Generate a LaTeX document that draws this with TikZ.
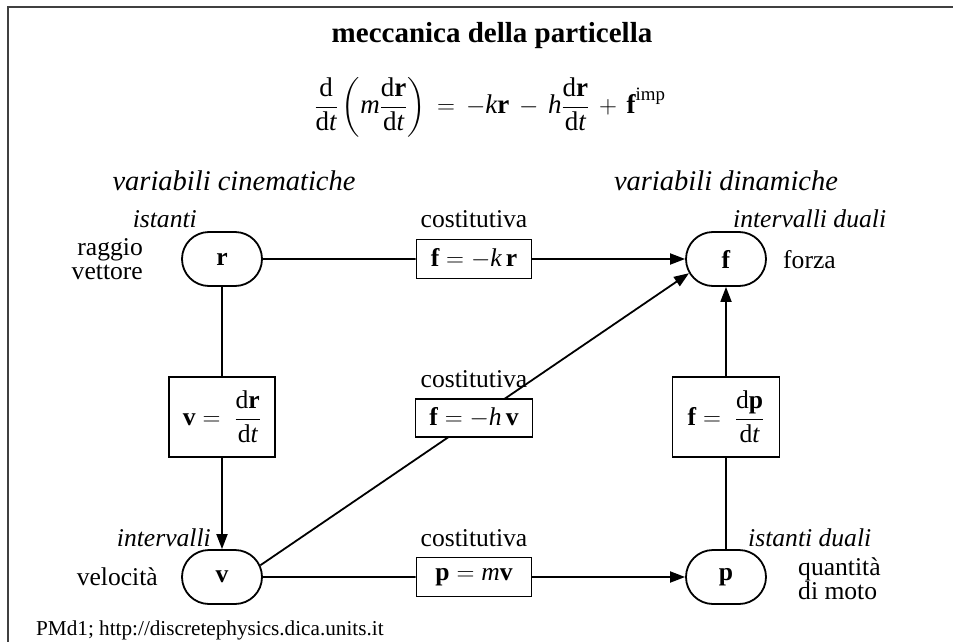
\documentclass[tikz,border=0pt]{standalone}
\usepackage{amsmath}
\usepackage{fontspec}
\setmainfont{Liberation Serif}
\usetikzlibrary{arrows.meta,shapes.misc}
\pgfdeclarelayer{bg}
\pgfsetlayers{bg,main}
\newcommand\bv[1]{\textbf{#1}}
\newcommand\iv[1]{\textit{#1}}
\newcommand\dd{\text{d}}
\begin{document}
\begin{tikzpicture}[x=1pt,y=-1pt,
  every node/.style={font=\fontsize{25.6}{24}\selectfont, inner sep=0pt},
  state/.style={draw, line width=1.8pt, rounded rectangle, minimum width=80pt, minimum height=54pt},
  eqbox/.style={draw, line width=1.8pt, fill=white, inner sep=3pt},
  conn/.style={line width=1.8pt},
  arr/.style={conn, -{Triangle[length=15pt,width=11pt]}},
  heading/.style={font=\fontsize{28.5}{30}\selectfont\itshape, anchor=base},
]
\useasboundingbox (0,0) rectangle (953,642);
\draw[line width=1.6pt, black!75] (8,642) -- (8,7) -- (953,7);

\node[font=\fontsize{29}{32}\selectfont\bfseries, anchor=base] (title) at (492,43) {meccanica della particella};
\node[font=\fontsize{27}{30}\selectfont] (eq) at (490,107) {$\displaystyle \frac{\dd}{\dd\iv{t}}\left(\iv{m}\frac{\dd\bv{r}}{\dd\iv{t}}\right) \,=\, -\iv{k}\bv{r} \,-\, \iv{h}\frac{\dd\bv{r}}{\dd\iv{t}} \,+\, \bv{f}^{\text{imp}}$};
\node[heading] (hk) at (234,190) {variabili cinematiche};
\node[heading] (hd) at (726,190) {variabili dinamiche};

\node[state] (r) at (222,259) {\bv{r}};
\node[state] (f) at (726,259) {\bv{f}};
\node[state] (v) at (222,577) {\bv{v}};
\node[state] (p) at (726,577) {\bv{p}};

\node[eqbox, minimum width=115pt, minimum height=39pt] (bk) at (474,259) {$\bv{f} = -\iv{k}\,\bv{r}$};
\node[eqbox, minimum width=117pt, minimum height=38pt] (bh) at (474,418) {$\bv{f} = -\iv{h}\,\bv{v}$};
\node[eqbox, minimum width=115pt, minimum height=39pt] (bm) at (474,577) {$\bv{p} = \iv{m}\bv{v}$};
\node[eqbox, minimum width=106pt, minimum height=80pt] (bv) at (222,417) {$\bv{v} = \;\dfrac{\dd\bv{r}}{\dd\iv{t}}$};
\node[eqbox, minimum width=107pt, minimum height=80pt] (bp) at (726,417) {$\bv{f} = \;\dfrac{\dd\bv{p}}{\dd\iv{t}}$};

\node[anchor=base] (c1) at (474,227) {costitutiva};
\node[anchor=base] (c2) at (474,387) {costitutiva};
\node[anchor=base] (c3) at (474,546) {costitutiva};

\node[anchor=base east] (l1) at (197,227) {\iv{istanti}};
\node[align=right, anchor=east] (l2) at (143,259) {raggio\\vettore};
\node[anchor=base west] (l3) at (733,227) {\iv{intervalli duali}};
\node[anchor=west] (l4) at (783,260) {forza};
\node[anchor=base east] (l5) at (211,546) {\iv{intervalli}};
\node[anchor=east] (l6) at (158,577) {velocità};
\node[anchor=base west] (l7) at (748,546) {\iv{istanti duali}};
\node[align=left, anchor=west] (l8) at (798,579) {quantità\\di moto};

\node[anchor=base west, font=\fontsize{21.2}{24}\selectfont] (foot) at (36,635) {PMd1; http://discretephysics.dica.units.it};

\begin{pgfonlayer}{bg}
\draw[conn] (r) -- (bk);
\draw[arr] (bk) -- (f);
\draw[conn] (r) -- (bv);
\draw[arr] (bv) -- (v);
\draw[conn] (v) -- (bm);
\draw[arr] (bm) -- (p);
\draw[conn] (p) -- (bp);
\draw[arr] (bp) -- (f);
\draw[arr] (v.17) -- (f.201);
\end{pgfonlayer}
\end{tikzpicture}
\end{document}
